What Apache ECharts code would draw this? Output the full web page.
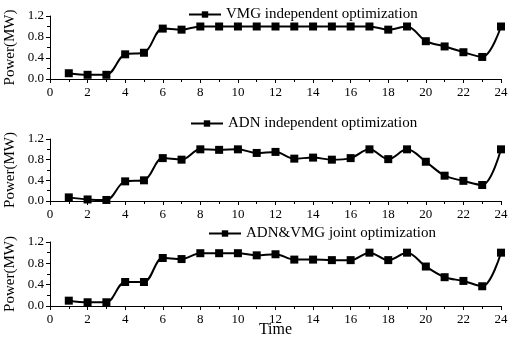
<!DOCTYPE html>
<html>
<head>
<meta charset="utf-8">
<script src="https://cdn.jsdelivr.net/npm/echarts@6/dist/echarts.min.js"></script>
<style>
html, body { margin: 0; padding: 0; background: #fff; }
#chart { width: 514px; height: 337px; }
</style>
</head>
<body>
<div id="chart"></div>
<script>
// hours 1..24
var hours = [1, 2, 3, 4, 5, 6, 7, 8, 9, 10, 11, 12, 13, 14, 15, 16, 17, 18, 19, 20, 21, 22, 23, 24]
var vmgValues = [0.11, 0.08, 0.08, 0.47, 0.50, 0.96, 0.94, 1.0, 1.0, 1.0, 1.0, 1.0, 1.0, 1.0, 1.0, 1.0, 1.0, 0.94, 1.0, 0.72, 0.62, 0.51, 0.42, 1.0]
var adnValues = [0.07, 0.03, 0.02, 0.38, 0.40, 0.83, 0.80, 1.0, 0.99, 1.0, 0.93, 0.95, 0.82, 0.84, 0.80, 0.83, 1.0, 0.81, 1.0, 0.76, 0.49, 0.39, 0.31, 1.0]
var jointValues = [0.10, 0.07, 0.07, 0.45, 0.45, 0.90, 0.88, 0.99, 0.99, 0.99, 0.95, 0.97, 0.87, 0.87, 0.86, 0.86, 1.0, 0.86, 1.0, 0.74, 0.54, 0.47, 0.37, 1.0]
var seriesNames = ['VMG independent optimization', 'ADN independent optimization', 'ADN&VMG joint optimization']
var yTicks = [0, 0.4, 0.8, 1.2]

var font = 'Liberation Serif'
var grids = [
  {left: 50, right: 13, top: 16, height: 63, outerBoundsMode: 'none'},
  {left: 50, right: 13, top: 139, height: 62, outerBoundsMode: 'none'},
  {left: 50, right: 13, top: 242, height: 64, outerBoundsMode: 'none'}
]
var legendPos = [
  {left: 183, top: 2},
  {left: 185, top: 111},
  {left: 203, top: 221}
]
var allValues = [vmgValues, adnValues, jointValues]

function pairs (vals) {
  var out = []
  for (var i = 0; i < hours.length; i++) {
    out.push([hours[i], vals[i]])
  }
  return out
}

var option = {
  animation: false,
  backgroundColor: '#fff',
  grid: grids,
  legend: legendPos.map(function (p, i) {
    return {
      left: p.left,
      top: p.top,
      data: [seriesNames[i]],
      itemWidth: 32,
      itemHeight: 8,
      itemGap: 5,
      textStyle: {fontFamily: font, fontSize: 15, color: '#000'}
    }
  }),
  xAxis: grids.map(function (g, i) {
    return {
      type: 'value',
      gridIndex: i,
      min: 0,
      max: 24,
      interval: 2,
      name: i === 2 ? 'Time' : '',
      nameLocation: 'middle',
      nameGap: 16,
      nameMoveOverlap: false,
      nameTextStyle: {fontFamily: font, fontSize: 16, color: '#000'},
      splitLine: {show: false},
      axisLine: {lineStyle: {color: '#000', width: 1}},
      axisTick: {length: 4, lineStyle: {color: '#000'}},
      minorTick: {show: true, splitNumber: 2, length: 3, lineStyle: {color: '#000'}},
      axisLabel: {fontFamily: font, fontSize: 13, color: '#000', margin: 7}
    }
  }),
  yAxis: grids.map(function (g, i) {
    return {
      type: 'value',
      gridIndex: i,
      min: yTicks[0],
      max: yTicks[yTicks.length - 1],
      interval: 0.4,
      name: 'Power(MW)',
      nameLocation: 'middle',
      nameGap: 32,
      nameMoveOverlap: false,
      nameTextStyle: {fontFamily: font, fontSize: 15, color: '#000'},
      splitLine: {show: false},
      axisLine: {show: true, lineStyle: {color: '#000', width: 1}},
      axisTick: {show: true, length: 4, lineStyle: {color: '#000'}},
      minorTick: {show: true, splitNumber: 2, length: 3, lineStyle: {color: '#000'}},
      axisLabel: {fontFamily: font, fontSize: 13, color: '#000', margin: 6,
        formatter: function (v) { return v.toFixed(1) }}
    }
  }),
  series: allValues.map(function (vals, i) {
    return {
      name: seriesNames[i],
      type: 'line',
      xAxisIndex: i,
      yAxisIndex: i,
      data: pairs(vals),
      smooth: 0.35,
      symbol: 'rect',
      symbolSize: 8,
      lineStyle: {color: '#000', width: 2},
      itemStyle: {color: '#000'}
    }
  })
}

var chart = echarts.init(document.getElementById('chart'))
chart.setOption(option)
</script>
</body>
</html>
